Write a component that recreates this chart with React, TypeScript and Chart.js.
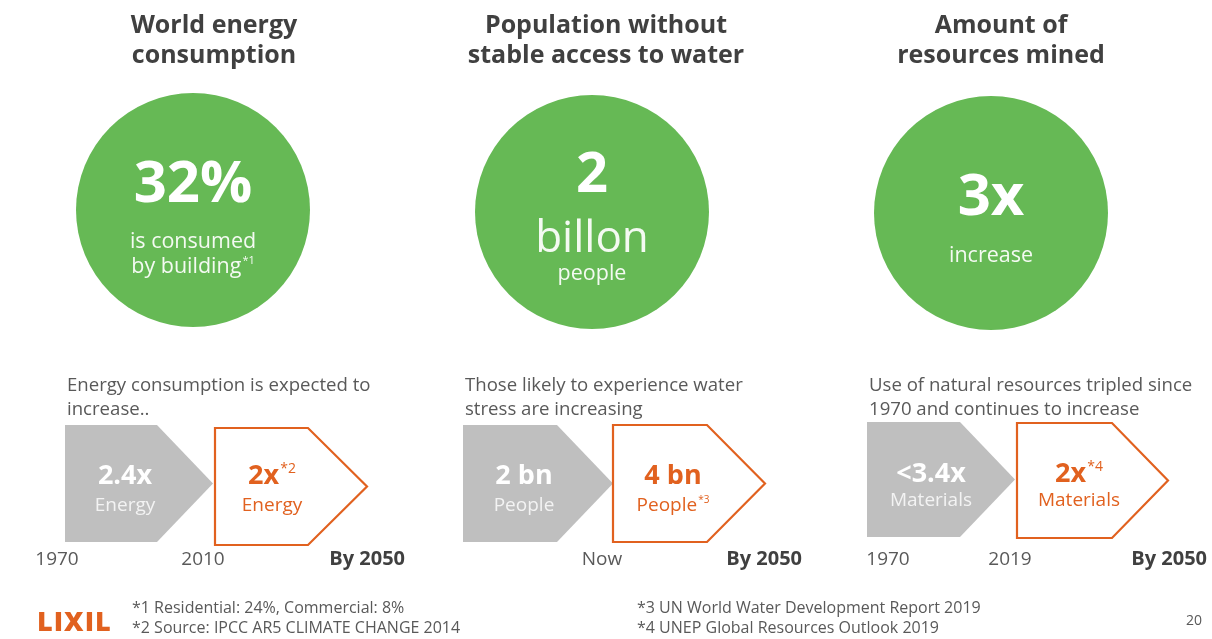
import React, { useEffect, useRef } from "react";
import { Chart, registerables } from "chart.js";

Chart.register(...registerables);

// ---------- data ----------
const titles: string[][] = [
  ["World energy", "consumption"],
  ["Population without", "stable access to water"],
  ["Amount of", "resources mined"],
];
const headlines: string[] = ["32%", "2", "3x"];
const captionLines: string[][] = [["is consumed", "by building"], ["billon", "people"], ["increase"]];
const captionNotes: string[][] = [["", "*1"], ["", ""], [""]];
const descriptions: string[][] = [
  ["Energy consumption is expected to", "increase.."],
  ["Those likely to experience water", "stress are increasing"],
  ["Use of natural resources tripled since", "1970 and continues to increase"],
];
const pastValues: string[] = ["2.4x", "2 bn", "<3.4x"];
const pastUnits: string[] = ["Energy", "People", "Materials"];
const futureValues: string[] = ["2x", "4 bn", "2x"];
const futureValueNotes: string[] = ["*2", "", "*4"];
const futureUnits: string[] = ["Energy", "People", "Materials"];
const futureUnitNotes: string[] = ["", "*3", ""];
const startYears: string[] = ["1970", "", "1970"];
const midYears: string[] = ["2010", "Now", "2019"];
const endYears: string[] = ["By 2050", "By 2050", "By 2050"];
const footnotesLeft: string[] = ["*1 Residential: 24%, Commercial: 8%", "*2 Source: IPCC AR5 CLIMATE CHANGE 2014"];
const footnotesRight: string[] = ["*3 UN World Water Development Report 2019", "*4 UNEP Global Resources Outlook 2019"];
const brand = "LIXIL";
const pageNumber = "20";

// ---------- layout / style ----------
const W = 1212;
const H = 639;
const FONT = "'Open Sans', 'Noto Sans', sans-serif";
const GREEN = "#66b955";
const GRAY_ARROW = "#bfbfbf";
const ORANGE = "#e1611f";
const DARK = "#404040";
const MID = "#595959";

type Panel = {
  titleX: number; cx: number; cy: number; r: number;
  headY: number; headSize: number;
  capY: number[]; capSize: number[];
  descX: number;
  g: number[]; o: number[];
  gTextX: number; oTextX: number; valY: number; unitY: number;
  startX: number; midX: number; endRight: number;
};

const panels: Panel[] = [
  { titleX: 214, cx: 193, cy: 210, r: 117, headY: 202, headSize: 58, capY: [248, 273], capSize: [21.5, 21.5],
    descX: 67, g: [65, 157, 213, 425, 542], o: [215, 308, 367, 428, 545], gTextX: 125, oTextX: 272,
    valY: 484, unitY: 511, startX: 57, midX: 203, endRight: 405 },
  { titleX: 606, cx: 592, cy: 212, r: 117, headY: 192, headSize: 56, capY: [252, 280], capSize: [44, 21.5],
    descX: 465, g: [463, 557, 613, 425, 542], o: [613, 707, 765, 425, 542], gTextX: 524, oTextX: 673,
    valY: 484, unitY: 511, startX: 0, midX: 602, endRight: 802 },
  { titleX: 1001, cx: 991, cy: 213, r: 117, headY: 215, headSize: 58, capY: [262], capSize: [21.5],
    descX: 869, g: [867, 960, 1015, 422, 537], o: [1017, 1112, 1168, 423, 538], gTextX: 931, oTextX: 1079,
    valY: 482, unitY: 506, startX: 888, midX: 1010, endRight: 1207 },
];

function textWithNote(ctx: CanvasRenderingContext2D, main: string, note: string, cx: number, y: number,
  size: number, weight: string, color: string) {
  ctx.font = `${weight} ${size}px ${FONT}`;
  const wMain = ctx.measureText(main).width;
  const noteSize = Math.round(size * 0.5);
  ctx.font = `normal ${noteSize}px ${FONT}`;
  const wNote = note ? ctx.measureText(note).width + 1 : 0;
  const x0 = cx - (wMain + wNote) / 2;
  ctx.fillStyle = color;
  ctx.textAlign = "left";
  ctx.textBaseline = "alphabetic";
  ctx.font = `${weight} ${size}px ${FONT}`;
  ctx.fillText(main, x0, y);
  if (note) {
    ctx.font = `normal ${noteSize}px ${FONT}`;
    ctx.fillText(note, x0 + wMain + 1, y - size * 0.42);
  }
}

const infographic = {
  id: "infographic",
  afterDatasetsDraw(chart: any) {
    const ctx: CanvasRenderingContext2D = chart.ctx;
    const xs = chart.scales.x;
    const ys = chart.scales.y;
    const X = (v: number) => xs.getPixelForValue(v);
    const Y = (v: number) => ys.getPixelForValue(v);
    ctx.save();

    panels.forEach((p, i) => {
      // titles
      titles[i].forEach((t, k) => {
        ctx.font = `bold 25px ${FONT}`;
        ctx.fillStyle = DARK;
        ctx.textAlign = "center";
        ctx.textBaseline = "alphabetic";
        ctx.fillText(t, X(p.titleX), Y(33 + k * 30));
      });
      // headline in circle
      textWithNote(ctx, headlines[i], "", X(p.cx), Y(p.headY), p.headSize, "bold", "#ffffff");
      captionLines[i].forEach((c, k) => {
        textWithNote(ctx, c, captionNotes[i][k], X(p.cx), Y(p.capY[k]), p.capSize[k], "normal", "#f4faf2");
      });
      // description
      descriptions[i].forEach((d, k) => {
        ctx.font = `normal 18.6px ${FONT}`;
        ctx.fillStyle = MID;
        ctx.textAlign = "left";
        ctx.fillText(d, X(p.descX), Y(391 + k * 24));
      });
      // gray arrow
      const [gx0, gx1, gx2, gt, gb] = p.g;
      ctx.beginPath();
      ctx.moveTo(X(gx0), Y(gt));
      ctx.lineTo(X(gx1), Y(gt));
      ctx.lineTo(X(gx2), Y((gt + gb) / 2));
      ctx.lineTo(X(gx1), Y(gb));
      ctx.lineTo(X(gx0), Y(gb));
      ctx.closePath();
      ctx.fillStyle = GRAY_ARROW;
      ctx.fill();
      // orange outline arrow
      const [ox0, ox1, ox2, ot, ob] = p.o;
      ctx.beginPath();
      ctx.moveTo(X(ox0), Y(ot));
      ctx.lineTo(X(ox1), Y(ot));
      ctx.lineTo(X(ox2), Y((ot + ob) / 2));
      ctx.lineTo(X(ox1), Y(ob));
      ctx.lineTo(X(ox0), Y(ob));
      ctx.closePath();
      ctx.fillStyle = "#ffffff";
      ctx.fill();
      ctx.strokeStyle = ORANGE;
      ctx.lineWidth = 2.2;
      ctx.lineJoin = "miter";
      ctx.stroke();
      // arrow texts
      textWithNote(ctx, pastValues[i], "", X(p.gTextX), Y(p.valY), 27, "bold", "#ffffff");
      textWithNote(ctx, pastUnits[i], "", X(p.gTextX), Y(p.unitY), 19, "normal", "#f3f3f3");
      textWithNote(ctx, futureValues[i], futureValueNotes[i], X(p.oTextX), Y(p.valY), 27, "bold", ORANGE);
      textWithNote(ctx, futureUnits[i], futureUnitNotes[i], X(p.oTextX), Y(p.unitY), 19, "normal", ORANGE);
      // years
      ctx.textBaseline = "alphabetic";
      ctx.font = `normal 19px ${FONT}`;
      ctx.fillStyle = MID;
      ctx.textAlign = "center";
      if (startYears[i]) ctx.fillText(startYears[i], X(p.startX), Y(565));
      ctx.fillText(midYears[i], X(p.midX), Y(565));
      ctx.font = `bold 20px ${FONT}`;
      ctx.fillStyle = DARK;
      ctx.textAlign = "right";
      ctx.fillText(endYears[i], X(p.endRight), Y(565));
    });

    // footer
    ctx.font = `800 27px ${FONT}`;
    ctx.fillStyle = ORANGE;
    ctx.textAlign = "left";
    (ctx as any).letterSpacing = "1px";
    ctx.fillText(brand, X(37), Y(631));
    (ctx as any).letterSpacing = "0px";
    ctx.font = `normal 16px ${FONT}`;
    ctx.fillStyle = MID;
    footnotesLeft.forEach((f, k) => ctx.fillText(f, X(132), Y(613 + k * 20)));
    footnotesRight.forEach((f, k) => ctx.fillText(f, X(637), Y(613 + k * 20)));
    ctx.font = `normal 14px ${FONT}`;
    ctx.textAlign = "right";
    ctx.fillText(pageNumber, X(1202), Y(625));
    ctx.restore();
  },
};

export default function App() {
  const ref = useRef<HTMLCanvasElement | null>(null);
  useEffect(() => {
    if (!ref.current) return;
    const chart = new Chart(ref.current, {
      type: "bubble",
      data: {
        datasets: [
          {
            label: "circles",
            data: panels.map((p) => ({ x: p.cx, y: p.cy, r: p.r })),
            backgroundColor: GREEN,
            borderWidth: 0,
            clip: false as any,
          },
        ],
      },
      options: {
        responsive: false,
        animation: false,
        devicePixelRatio: 1,
        events: [],
        layout: { padding: 0, autoPadding: false },
        plugins: { legend: { display: false }, tooltip: { enabled: false } },
        scales: {
          x: { type: "linear", min: 0, max: W, display: false },
          y: { type: "linear", min: 0, max: H, reverse: true, display: false },
        },
      },
      plugins: [infographic],
    });
    return () => chart.destroy();
  }, []);
  return (
    <div style={{ position: "absolute", left: 0, top: 0, width: W, height: H, background: "#ffffff" }}>
      <canvas ref={ref} width={W} height={H} />
    </div>
  );
}
